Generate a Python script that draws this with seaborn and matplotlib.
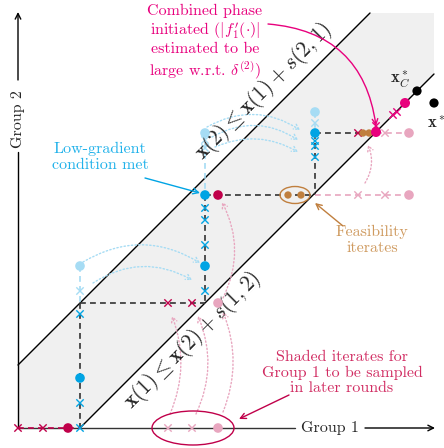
import numpy as np
import pandas as pd
import matplotlib
matplotlib.use("Agg")
import matplotlib.pyplot as plt
import seaborn as sns
from matplotlib.patches import Ellipse, Polygon

# ---------------- data (diagram units, origin at the axes corner) ----------------
x_max, y_max = 416, 415
upper_intercept = 63      # x(2) <= x(1) + s(2,1)
lower_intercept = -62     # x(1) <= x(2) + s(1,2)

blue_x = [297, 187, 187, 62]
blue_y = [295, 233, 162, 50]
blue_faded_x = [297, 187, 62]
blue_faded_y = [316, 295, 162]
crimson_x = [200, 50]
crimson_y = [233, 0]
pink_faded_x = [391, 391, 200, 200]
pink_faded_y = [295, 233, 125, 0]
brown_x = [345, 351, 270, 283]
brown_y = [295, 295, 233, 233]
magenta_x = [358, 387]
magenta_y = [296, 325]
opt_x = [399, 416]
opt_y = [337, 325]

blue_cross_x = [297, 297, 297, 187, 187, 187, 187, 62, 62, 62]
blue_cross_y = [287, 282, 271, 220, 208, 183, 137, 114, 25, 0]
blue_faded_cross_x = [297, 187, 187, 62]
blue_faded_cross_y = [305, 288, 280, 137]
crimson_cross_x = [340, 150, 174, 0, 25]
crimson_cross_y = [295, 125, 125, 0, 0]
pink_faded_cross_x = [367, 340, 367, 150, 174]
pink_faded_cross_y = [295, 233, 233, 0, 0]
magenta_cross_x = [375, 379, 358]
magenta_cross_y = [313, 316, 302]

# path segments (x0, y0, x1, y1)
black_dash = [(297, 295, 358, 295), (297, 295, 297, 233), (187, 233, 297, 233),
              (187, 233, 187, 125), (62, 125, 187, 125), (62, 125, 62, 0)]
blue_faded_dash = [(297, 316, 297, 295), (187, 295, 187, 233), (62, 162, 62, 125)]
pink_faded_dash = [(358, 295, 391, 295), (297, 233, 391, 233)]
crimson_dash = [(0, 0, 62, 0)]

# dotted moves (x0, y0, x1, y1, curvature)
pink_moves = [(152, 14, 154, 112, 0.2), (178, 14, 180, 112, 0.22), (205, 16, 205, 116, 0.2),
              (205, 130, 204, 226, 0.25), (347, 245, 350, 283, 0.25)]
blue_moves = [(189, 301, 282, 298, -0.3), (194, 291, 280, 288, -0.3), (197, 281, 280, 276, -0.25),
              (65, 166, 182, 165, -0.3), (75, 145, 174, 148, -0.3)]

# ---------------- style ----------------
BLUE = '#00a4e4'
BLUE_FADED = '#a6dcf4'
CRIMSON = '#c0004a'
PINK_FADED = '#e8a6bf'
BROWN = '#c07f3e'
MAGENTA = '#e8007d'
TEXT_BLUE = '#1fb1ea'
TEXT_BROWN = '#cf9a5f'
TEXT_CRIMSON = '#d12c62'
SHADE = '#f0f0f0'

sns.set_style("white")
plt.rcParams['font.family'] = ['cmr10', 'DejaVu Serif']
plt.rcParams['mathtext.fontset'] = 'cm'
plt.rcParams['axes.unicode_minus'] = False

fig = plt.figure(figsize=(4.44, 4.48), dpi=100)
ax = fig.add_axes([0, 0, 1, 1])
ax.set_xlim(-18, 426)
ax.set_ylim(-20, 428)
ax.axis('off')

# feasible band
band = Polygon([(0, 0), (-lower_intercept, 0), (x_max, x_max + lower_intercept), (x_max, y_max),
                (y_max - upper_intercept, y_max), (0, upper_intercept)],
               closed=True, facecolor=SHADE, edgecolor='none', zorder=0)
ax.add_patch(band)
ax.plot([0, y_max - upper_intercept], [upper_intercept, y_max], color='black', lw=1.0, zorder=1)
ax.plot([-lower_intercept, x_max], [0, x_max + lower_intercept], color='black', lw=1.0, zorder=1)

# axes arrows
ax.plot([0, 277], [0, 0], color='#333333', lw=1.0, zorder=1)
ax.annotate('', xy=(417, 0), xytext=(347, 0),
            arrowprops=dict(arrowstyle='->', color='black', lw=1.0, shrinkA=0, shrinkB=0))
ax.plot([0, 0], [0, 276], color='black', lw=1.0, zorder=1)
ax.annotate('', xy=(0, 416), xytext=(0, 348),
            arrowprops=dict(arrowstyle='->', color='black', lw=1.0, shrinkA=0, shrinkB=0))
ax.text(312, 0, 'Group 1', ha='center', va='center', fontsize=11.5)
ax.text(0, 309, 'Group 2', ha='center', va='center', fontsize=11.5, rotation=90)

# dashed paths
def draw_segments(segs, color, lw, z, dashes=(3.5, 2.5)):
    for x0, y0, x1, y1 in segs:
        seg = pd.DataFrame({'x': [x0, x1], 'y': [y0, y1]})
        sns.lineplot(data=seg, x='x', y='y', ax=ax, color=color, lw=lw, sort=False,
                     estimator=None, zorder=z, dashes=False).lines[-1].set_dashes(dashes)

draw_segments(black_dash, '#333333', 1.2, 2)
draw_segments(blue_faded_dash, BLUE_FADED, 1.2, 2)
draw_segments(pink_faded_dash, PINK_FADED, 1.2, 2)
draw_segments(crimson_dash, CRIMSON, 1.2, 2)

# dotted moves
for x0, y0, x1, y1, rad in pink_moves:
    ax.annotate('', xy=(x1, y1), xytext=(x0, y0),
                arrowprops=dict(arrowstyle='->,head_length=0.35,head_width=0.2', color=PINK_FADED,
                                lw=1.0, ls=':', shrinkA=0, shrinkB=0,
                                connectionstyle=f'arc3,rad={rad}'), zorder=2)
for x0, y0, x1, y1, rad in blue_moves:
    ax.annotate('', xy=(x1, y1), xytext=(x0, y0),
                arrowprops=dict(arrowstyle='->,head_length=0.35,head_width=0.2', color=BLUE_FADED,
                                lw=1.0, ls=':', shrinkA=0, shrinkB=0,
                                connectionstyle=f'arc3,rad={rad}'), zorder=2)

# crosses
crosses = pd.concat([
    pd.DataFrame({'x': blue_cross_x, 'y': blue_cross_y, 'kind': 'blue'}),
    pd.DataFrame({'x': blue_faded_cross_x, 'y': blue_faded_cross_y, 'kind': 'blue_faded'}),
    pd.DataFrame({'x': crimson_cross_x, 'y': crimson_cross_y, 'kind': 'crimson'}),
    pd.DataFrame({'x': pink_faded_cross_x, 'y': pink_faded_cross_y, 'kind': 'pink_faded'}),
    pd.DataFrame({'x': magenta_cross_x, 'y': magenta_cross_y, 'kind': 'magenta'}),
])
cross_pal = {'blue': BLUE, 'blue_faded': BLUE_FADED, 'crimson': CRIMSON,
             'pink_faded': PINK_FADED, 'magenta': MAGENTA}
sns.scatterplot(data=crosses, x='x', y='y', hue='kind', palette=cross_pal, marker='x',
                s=28, linewidth=1.0, legend=False, ax=ax, zorder=3)

# dots
dots = pd.concat([
    pd.DataFrame({'x': blue_faded_x, 'y': blue_faded_y, 'kind': 'blue_faded'}),
    pd.DataFrame({'x': pink_faded_x, 'y': pink_faded_y, 'kind': 'pink_faded'}),
    pd.DataFrame({'x': blue_x, 'y': blue_y, 'kind': 'blue'}),
    pd.DataFrame({'x': crimson_x, 'y': crimson_y, 'kind': 'crimson'}),
    pd.DataFrame({'x': brown_x, 'y': brown_y, 'kind': 'brown'}),
    pd.DataFrame({'x': magenta_x, 'y': magenta_y, 'kind': 'magenta'}),
    pd.DataFrame({'x': opt_x, 'y': opt_y, 'kind': 'opt'}),
])
dot_pal = {'blue': BLUE, 'blue_faded': BLUE_FADED, 'crimson': CRIMSON, 'pink_faded': PINK_FADED,
           'brown': BROWN, 'magenta': MAGENTA, 'opt': 'black'}
sizes = {'blue': 48, 'blue_faded': 48, 'crimson': 48, 'pink_faded': 48,
         'brown': 28, 'magenta': 52, 'opt': 44}
dots['sz'] = dots['kind'].map(sizes)
sns.scatterplot(data=dots, x='x', y='y', hue='kind', palette=dot_pal, size='sz',
                sizes=(28, 52), linewidth=0, legend=False, ax=ax, zorder=4)

# ellipses
ax.add_patch(Ellipse((277, 233), 30, 17, fill=False, edgecolor=BROWN, lw=1.0, zorder=5))
ax.add_patch(Ellipse((175, 0), 82, 34, fill=False, edgecolor=CRIMSON, lw=1.0, zorder=5))

# labels of optima
ax.text(382, 349, r'$\mathbf{x}_C^*$', ha='center', va='center', fontsize=12)
ax.text(418, 306, r'$\mathbf{x}^*$', ha='center', va='center', fontsize=12)

# constraint labels (baseline placed parallel to the constraint lines)
ax.text(249, 333, r'$\mathbf{x}(2) \leq \mathbf{x}(1) + s(2,1)$', ha='center', va='baseline',
        fontsize=15.5, rotation=45, rotation_mode='anchor')
ax.text(178, 84, r'$\mathbf{x}(1) \leq \mathbf{x}(2) + s(1,2)$', ha='center', va='baseline',
        fontsize=15.5, rotation=45, rotation_mode='anchor')

# annotations
ax.text(187, 386, 'Combined phase\ninitiated ($|f_1\'(\\cdot)|$\nestimated to be\nlarge w.r.t. $\\delta^{(2)}$)',
        ha='center', va='center', fontsize=11.5, color=MAGENTA, linespacing=1.15)
ax.annotate('', xy=(358, 302), xytext=(250, 404),
            arrowprops=dict(arrowstyle='->', color=MAGENTA, lw=1.0, shrinkA=0, shrinkB=0,
                            connectionstyle='arc3,rad=-0.4'))

ax.text(82, 271, 'Low-gradient\ncondition met', ha='center', va='center', fontsize=11.5,
        color=TEXT_BLUE, linespacing=1.15)
ax.annotate('', xy=(182, 235), xytext=(127, 250),
            arrowprops=dict(arrowstyle='->', color=BLUE, lw=1.0, shrinkA=0, shrinkB=0))

ax.text(354, 188, 'Feasibility\niterates', ha='center', va='center', fontsize=11.5,
        color=TEXT_BROWN, linespacing=1.15)
ax.annotate('', xy=(297, 225), xytext=(325, 202),
            arrowprops=dict(arrowstyle='->', color=BROWN, lw=1.0, shrinkA=0, shrinkB=0))

ax.text(324, 55, 'Shaded iterates for\nGroup 1 to be sampled\nin later rounds', ha='center',
        va='center', fontsize=11.5, color=TEXT_CRIMSON, linespacing=1.15)
ax.annotate('', xy=(221, 9), xytext=(271, 33),
            arrowprops=dict(arrowstyle='->', color=CRIMSON, lw=1.0, shrinkA=0, shrinkB=0))

fig.savefig('out.png', dpi=100)
